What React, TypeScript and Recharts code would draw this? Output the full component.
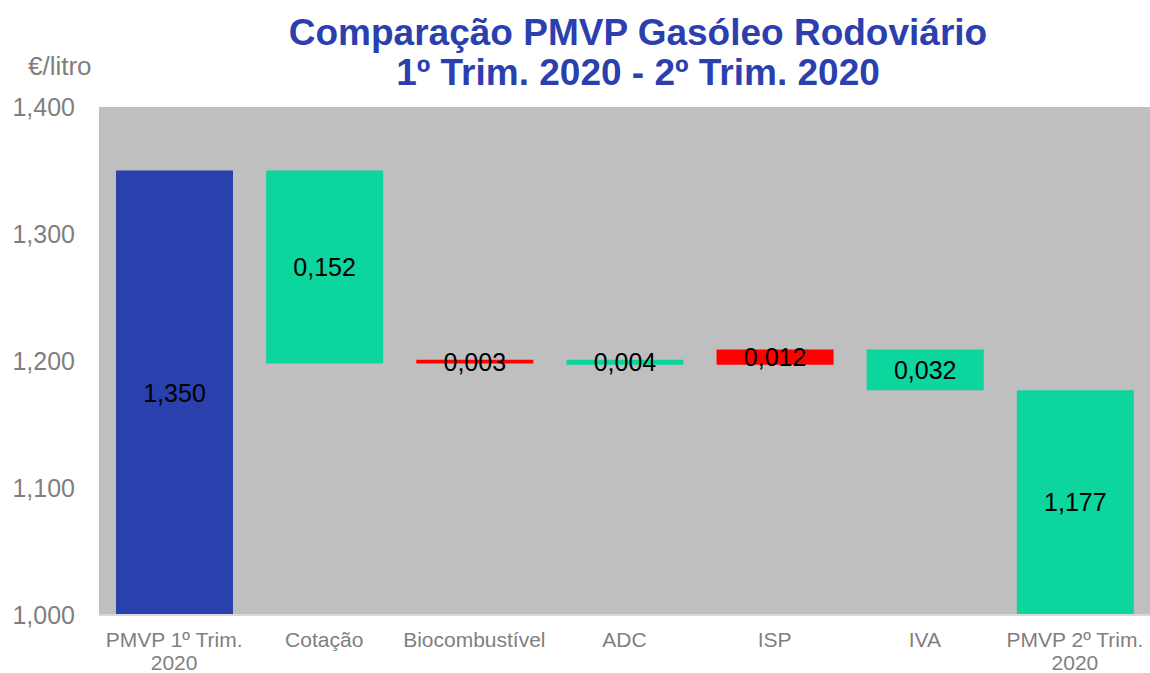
import React from 'react';
import { ComposedChart, Bar, XAxis, YAxis, CartesianGrid, Cell, LabelList } from 'recharts';

const categories = ['PMVP 1º Trim.\n2020', 'Cotação', 'Biocombustível', 'ADC', 'ISP', 'IVA', 'PMVP 2º Trim.\n2020'];
const amounts = [1.35, 0.152, 0.003, 0.004, 0.012, 0.032, 1.177];
const kinds = ['total', 'down', 'up', 'down', 'up', 'down', 'total'];
const yTicks = [1.0, 1.1, 1.2, 1.3, 1.4];
const axisBase = 1.0;

const FONT = '"Liberation Sans", Arial, sans-serif';
const BLUE = '#2940ad';
const GREEN = '#0cd69e';
const RED = '#ff0000';
const GREY_TEXT = '#7f7f7f';

const fmt = (v: number) => v.toFixed(3).replace('.', ',');

function buildData() {
  let running = 0;
  return categories.map((name, i) => {
    const amt = amounts[i];
    let range: [number, number];
    if (kinds[i] === 'total') {
      range = [axisBase, amt];
      running = amt;
    } else if (kinds[i] === 'down') {
      range = [running - amt, running];
      running -= amt;
    } else {
      range = [running, running + amt];
      running += amt;
    }
    return { name, range, text: fmt(amt), kind: kinds[i] };
  });
}

const data = buildData();

const fillFor = (kind: string, i: number) => {
  if (kind === 'total') return i === 0 ? BLUE : GREEN;
  return kind === 'down' ? GREEN : RED;
};

const CategoryTick = (props: any) => {
  const { x, y, payload } = props;
  const lines = String(payload.value).split('\n');
  return (
    <text x={x} y={y} textAnchor="middle" fill={GREY_TEXT} fontSize={21} fontFamily={FONT}>
      {lines.map((l, i) => (
        <tspan key={i} x={x} y={y + 32 + i * 23}>{l}</tspan>
      ))}
    </text>
  );
};

export default function App() {
  return (
    <div style={{ position: 'absolute', left: 0, top: 0, width: 1150, height: 673, background: '#fff', fontFamily: FONT }}>
      <div style={{ position: 'absolute', left: 238, top: 13, width: 800, textAlign: 'center', color: '#2b3fae', fontWeight: 'bold', fontSize: 37, lineHeight: '40px' }}>
        Comparação PMVP Gasóleo Rodoviário<br />1º Trim. 2020 - 2º Trim. 2020
      </div>
      <div style={{ position: 'absolute', left: 28, top: 51, color: GREY_TEXT, fontSize: 26, lineHeight: '30px' }}>€/litro</div>
      <ComposedChart width={1150} height={673} data={data} margin={{ top: 107, right: 0, left: 0, bottom: 0 }}>
        <CartesianGrid horizontal={false} vertical={false} fill="#bfbfbf" stroke="none" />
        <XAxis
          dataKey="name"
          interval={0}
          height={58}
          tickLine={false}
          tickSize={0}
          tickMargin={0}
          axisLine={{ stroke: '#d9d9d9', strokeWidth: 2 }}
          tick={<CategoryTick />}
        />
        <YAxis
          width={99}
          domain={[1.0, 1.4]}
          ticks={yTicks}
          allowDataOverflow
          axisLine={false}
          tickLine={false}
          tickSize={0}
          tickMargin={24}
          tickFormatter={(v: number) => fmt(v)}
          tick={{ fill: GREY_TEXT, fontSize: 25, fontFamily: FONT }}
        />
        <Bar dataKey="range" barSize={117} isAnimationActive={false}>
          {data.map((d, i) => (
            <Cell key={i} fill={fillFor(d.kind, i)} />
          ))}
          <LabelList dataKey="text" position="center" fill="#000" fontSize={25} fontFamily={FONT} />
        </Bar>
      </ComposedChart>
    </div>
  );
}
